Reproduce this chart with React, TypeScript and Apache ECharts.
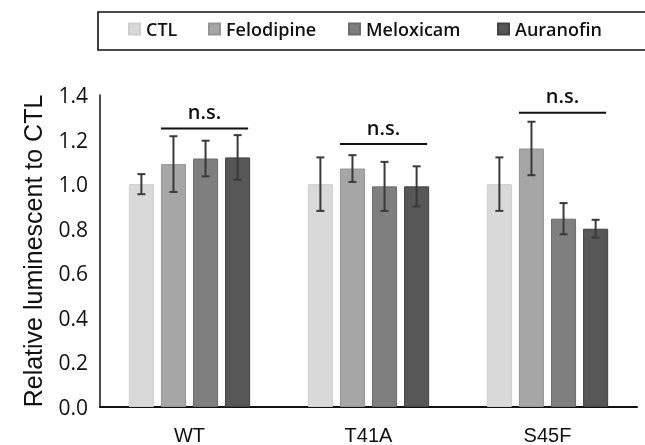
import React, { useEffect, useRef } from "react";
import * as echarts from "echarts";

const categories = ["WT", "T41A", "S45F"];
const seriesNames = ["CTL", "Felodipine", "Meloxicam", "Auranofin"];
const ctlValues = [1.0, 1.0, 1.0];
const ctlErrors = [0.045, 0.12, 0.12];
const felodipineValues = [1.09, 1.07, 1.16];
const felodipineErrors = [0.125, 0.06, 0.12];
const meloxicamValues = [1.115, 0.99, 0.845];
const meloxicamErrors = [0.08, 0.11, 0.07];
const auranofinValues = [1.12, 0.99, 0.8];
const auranofinErrors = [0.1, 0.09, 0.04];
const nsLevels = [1.25, 1.18, 1.32];
const yTicks = [0, 0.2, 0.4, 0.6, 0.8, 1.0, 1.2, 1.4];

const fills = ["#d9d9d9", "#a6a6a6", "#7f7f7f", "#575757"];
const borders = ["#cfcfcf", "#959595", "#6c6c6c", "#424242"];

const BAR_PCT = 0.14;
const GAP_RATIO = 0.28;

function barCenter(api: any, cat: number, idx: number, y: number) {
  const p = api.coord([cat, y]);
  const band = api.size([1, 0])[0];
  const bw = band * BAR_PCT;
  const gap = bw * GAP_RATIO;
  const total = 4 * bw + 3 * gap;
  const start = p[0] - total / 2;
  return { x: start + idx * (bw + gap) + bw / 2, y: p[1], bw };
}

export default function App() {
  const ref = useRef<HTMLDivElement>(null);
  useEffect(() => {
    if (!ref.current) return;
    const chart = echarts.init(ref.current, null, { renderer: "svg" });
    const allValues = [ctlValues, felodipineValues, meloxicamValues, auranofinValues];
    const allErrors = [ctlErrors, felodipineErrors, meloxicamErrors, auranofinErrors];
    const errData: number[][] = [];
    categories.forEach((_, c) => {
      for (let s = 0; s < 4; s++) errData.push([c, s, allValues[s][c], allErrors[s][c]]);
    });
    const nsData = nsLevels.map((v, c) => [c, v]);

    const legendLefts = [128, 208, 348, 497];
    const option: any = {
      animation: false,
      graphic: [
        {
          type: "rect",
          shape: { x: 98, y: 12, width: 600, height: 38 },
          style: { fill: "none", stroke: "#111", lineWidth: 1.6 },
          silent: true,
        },
      ],
      legend: seriesNames.map((n, i) => ({
        data: [n],
        left: legendLefts[i],
        top: 20,
        padding: 0,
        itemWidth: 11,
        itemHeight: 11,
        itemGap: 6,
        icon: "rect",
        textStyle: { fontFamily: "Open Sans", fontSize: 18, fontWeight: 600, color: "#111", padding: [0, 0, 0, 1] },
      })),
      grid: { left: 100, right: 8, top: 95, bottom: 37, containLabel: false },
      xAxis: {
        type: "category",
        data: categories,
        axisLine: { show: true, lineStyle: { color: "#111", width: 2 } },
        axisTick: { show: false },
        axisLabel: { fontFamily: "Liberation Sans", fontSize: 20, color: "#111", margin: 18 },
      },
      yAxis: {
        type: "value",
        min: 0,
        max: 1.4,
        interval: 0.2,
        name: "Relative luminescent to CTL",
        nameLocation: "middle",
        nameGap: 55,
        nameTextStyle: { fontFamily: "Liberation Sans", fontSize: 25, color: "#111" },
        axisLine: { show: true, lineStyle: { color: "#111", width: 1.5 } },
        axisTick: { show: false },
        splitLine: { show: false },
        axisLabel: {
          fontFamily: "Open Sans",
          fontSize: 21,
          fontWeight: 500,
          color: "#111",
          margin: 12,
          formatter: (v: number) => (yTicks.some((t) => Math.abs(t - v) < 1e-9) ? v.toFixed(1) : ""),
        },
      },
      series: [
        ...seriesNames.map((n, i) => ({
          name: n,
          type: "bar",
          data: allValues[i],
          barWidth: BAR_PCT * 100 + "%",
          barGap: GAP_RATIO * 100 + "%",
          itemStyle: { color: fills[i], borderColor: borders[i], borderWidth: 1 },
        })),
        {
          type: "custom",
          name: "errors",
          data: errData,
          z: 5,
          renderItem: (params: any, api: any) => {
            const cat = api.value(0);
            const idx = api.value(1);
            const mean = api.value(2);
            const err = api.value(3);
            const hi = barCenter(api, cat, idx, mean + err);
            const lo = barCenter(api, cat, idx, mean - err);
            const cap = 4;
            const style = { stroke: "#3a3a3a", lineWidth: 2 };
            return {
              type: "group",
              children: [
                { type: "line", shape: { x1: hi.x, y1: hi.y, x2: lo.x, y2: lo.y }, style },
                { type: "line", shape: { x1: hi.x - cap, y1: hi.y, x2: hi.x + cap, y2: hi.y }, style },
                { type: "line", shape: { x1: lo.x - cap, y1: lo.y, x2: lo.x + cap, y2: lo.y }, style },
              ],
            };
          },
        },
        {
          type: "custom",
          name: "ns",
          data: nsData,
          z: 6,
          renderItem: (params: any, api: any) => {
            const cat = api.value(0);
            const lvl = api.value(1);
            const a = barCenter(api, cat, 1, lvl);
            const b = barCenter(api, cat, 3, lvl);
            const x1 = a.x - a.bw / 2;
            const x2 = b.x + b.bw / 2 - 2;
            return {
              type: "group",
              children: [
                { type: "line", shape: { x1, y1: a.y, x2, y2: a.y }, style: { stroke: "#111", lineWidth: 2 } },
                {
                  type: "text",
                  x: (x1 + x2) / 2,
                  y: a.y - 7,
                  style: {
                    text: "n.s.",
                    fontFamily: "Open Sans",
                    fontSize: 20,
                    fontWeight: 600,
                    fill: "#111",
                    align: "center",
                    verticalAlign: "bottom",
                  },
                },
              ],
            };
          },
        },
      ],
    };
    chart.setOption(option);
    return () => chart.dispose();
  }, []);
  return <div ref={ref} style={{ position: "fixed", left: 0, top: 0, width: 645, height: 445 }} />;
}
